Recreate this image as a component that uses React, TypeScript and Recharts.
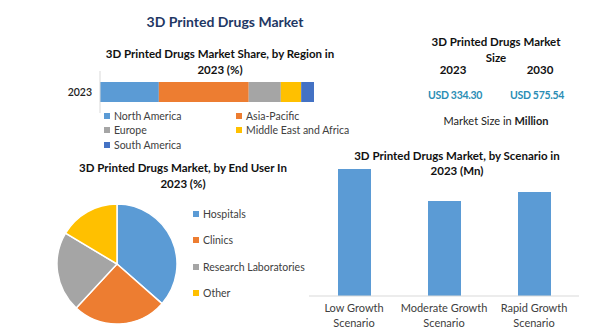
import { BarChart, Bar, XAxis, YAxis, PieChart, Pie, Cell } from 'recharts';

// region share, 2023 (%)
const regionNames = ['North America', 'Asia-Pacific', 'Europe', 'Middle East and Africa', 'South America'];
const regionShares = [27.5, 42, 15, 9.5, 6];
const regionColors = ['#5B9BD5', '#ED7D31', '#A5A5A5', '#FFC000', '#4472C4'];
const regionYear = '2023';

// end user, 2023 (%)
const endUsers = ['Hospitals', 'Clinics', 'Research Laboratories', 'Other'];
const endUserShares = [36.5, 25.4, 21.7, 16.4];
const endUserColors = ['#5B9BD5', '#ED7D31', '#A5A5A5', '#FFC000'];

// scenario, 2023 (Mn)
const scenarios = ['Low Growth Scenario', 'Moderate Growth Scenario', 'Rapid Growth Scenario'];
const scenarioValues = [127, 95, 104];

// market size
const sizeYears = ['2023', '2030'];
const sizeValues = ['USD 334.30', 'USD 575.54'];

const FONT = 'Lato, "Liberation Sans", sans-serif';

const regionRow: Record<string, any> = { year: regionYear };
regionNames.forEach((n, i) => (regionRow[n] = regionShares[i]));

const endUserData = endUsers.map((name, i) => ({ name, value: endUserShares[i] }));
const scenarioData = scenarios.map((name, i) => ({ name, value: scenarioValues[i] }));

function Text({ x, y, w = 300, children, style }: any) {
  return (
    <div
      style={{
        position: 'absolute',
        left: x - w / 2,
        top: y - 8,
        width: w,
        height: 16,
        lineHeight: '16px',
        textAlign: 'center',
        whiteSpace: 'nowrap',
        ...style,
      }}
    >
      {children}
    </div>
  );
}

function LegendItem({ x, y, color, label }: any) {
  return (
    <div
      style={{
        position: 'absolute',
        left: x,
        top: y - 8,
        height: 16,
        lineHeight: '16px',
        fontSize: 10.5,
        color: '#404040',
        whiteSpace: 'nowrap',
        display: 'flex',
        alignItems: 'center',
      }}
    >
      <span style={{ width: 6, height: 6, background: color, marginRight: 4, display: 'inline-block' }} />
      {label}
    </div>
  );
}

function ScenarioTick({ x, y, payload }: any) {
  const words: string[] = payload.value.split(' ');
  const last = words.pop();
  return (
    <text x={x} y={y} textAnchor="middle" fontSize={11} fill="#404040" fontFamily={FONT}>
      <tspan x={x} dy={8}>{words.join(' ')}</tspan>
      <tspan x={x} dy={15}>{last}</tspan>
    </text>
  );
}

export default function App() {
  const bold = { fontWeight: 700, color: '#111', fontSize: 11.5 };
  return (
    <div
      style={{
        position: 'absolute',
        left: 0,
        top: 0,
        width: 600,
        height: 334,
        background: '#fff',
        fontFamily: FONT,
        overflow: 'hidden',
      }}
    >
      <Text x={225} y={22} style={{ fontWeight: 700, fontSize: 14, color: '#1F3864' }}>
        3D Printed Drugs Market
      </Text>

      {/* region share */}
      <Text x={220} y={54} style={bold}>3D Printed Drugs Market Share, by Region in</Text>
      <Text x={220} y={70} style={bold}>2023 (%)</Text>
      <div style={{ position: 'absolute', left: 40, top: 71 }}>
        <BarChart
          width={280}
          height={42}
          layout="vertical"
          data={[regionRow]}
          margin={{ top: 0, right: 6, bottom: 0, left: 0 }}
          barCategoryGap={0}
        >
          <XAxis type="number" hide domain={[0, 100]} />
          <YAxis
            type="category"
            dataKey="year"
            width={60}
            axisLine={{ stroke: '#D9D9D9' }}
            tickLine={false}
            tick={{ fontSize: 10.5, fill: '#222', fontWeight: 600, fontFamily: FONT }}
          />
          {regionNames.map((n, i) => (
            <Bar key={n} dataKey={n} stackId="r" fill={regionColors[i]} barSize={20} isAnimationActive={false} />
          ))}
        </BarChart>
      </div>
      <LegendItem x={104} y={116} color={regionColors[0]} label={regionNames[0]} />
      <LegendItem x={236} y={116} color={regionColors[1]} label={regionNames[1]} />
      <LegendItem x={104} y={130} color={regionColors[2]} label={regionNames[2]} />
      <LegendItem x={236} y={130} color={regionColors[3]} label={regionNames[3]} />
      <LegendItem x={104} y={145} color={regionColors[4]} label={regionNames[4]} />

      {/* market size */}
      <Text x={496} y={42} style={bold}>3D Printed Drugs Market</Text>
      <Text x={496} y={58} style={bold}>Size</Text>
      <Text x={453} y={70} w={80} style={bold}>{sizeYears[0]}</Text>
      <Text x={540} y={70} w={80} style={bold}>{sizeYears[1]}</Text>
      <Text x={455} y={95} w={90} style={{ fontWeight: 700, fontSize: 10.5, color: '#2A8DB5', letterSpacing: -0.3 }}>
        {sizeValues[0]}
      </Text>
      <Text x={537} y={95} w={90} style={{ fontWeight: 700, fontSize: 10.5, color: '#2A8DB5', letterSpacing: -0.3 }}>
        {sizeValues[1]}
      </Text>
      <Text x={496} y={121} style={{ fontSize: 11, color: '#222' }}>
        Market Size in <b>Million</b>
      </Text>

      {/* end user pie */}
      <Text x={183} y={168} style={bold}>3D Printed Drugs Market, by End User In</Text>
      <Text x={183} y={184} style={bold}>2023 (%)</Text>
      <div style={{ position: 'absolute', left: 40, top: 180 }}>
        <PieChart width={160} height={154}>
          <Pie
            data={endUserData}
            dataKey="value"
            nameKey="name"
            cx={72}
            cy={79}
            outerRadius={60}
            startAngle={90}
            endAngle={-270}
            stroke="#fff"
            strokeWidth={1.5}
            isAnimationActive={false}
          >
            {endUserData.map((d, i) => (
              <Cell key={d.name} fill={endUserColors[i]} />
            ))}
          </Pie>
        </PieChart>
      </div>
      {endUsers.map((n, i) => (
        <LegendItem key={n} x={193} y={214 + i * 26.3} color={endUserColors[i]} label={n} />
      ))}

      {/* scenario bars */}
      <Text x={457} y={156} style={bold}>3D Printed Drugs Market, by Scenario in</Text>
      <Text x={457} y={171} style={bold}>2023 (Mn)</Text>
      <div style={{ position: 'absolute', left: 300, top: 160 }}>
        <BarChart
          width={285}
          height={170}
          data={scenarioData}
          margin={{ top: 0, right: 6, bottom: 0, left: 9 }}
        >
          <XAxis
            dataKey="name"
            height={34}
            axisLine={{ stroke: '#D9D9D9' }}
            tickLine={false}
            interval={0}
            tick={<ScenarioTick />}
          />
          <YAxis hide domain={[0, 136]} />
          <Bar dataKey="value" fill="#5B9BD5" barSize={33} isAnimationActive={false} />
        </BarChart>
      </div>
    </div>
  );
}
